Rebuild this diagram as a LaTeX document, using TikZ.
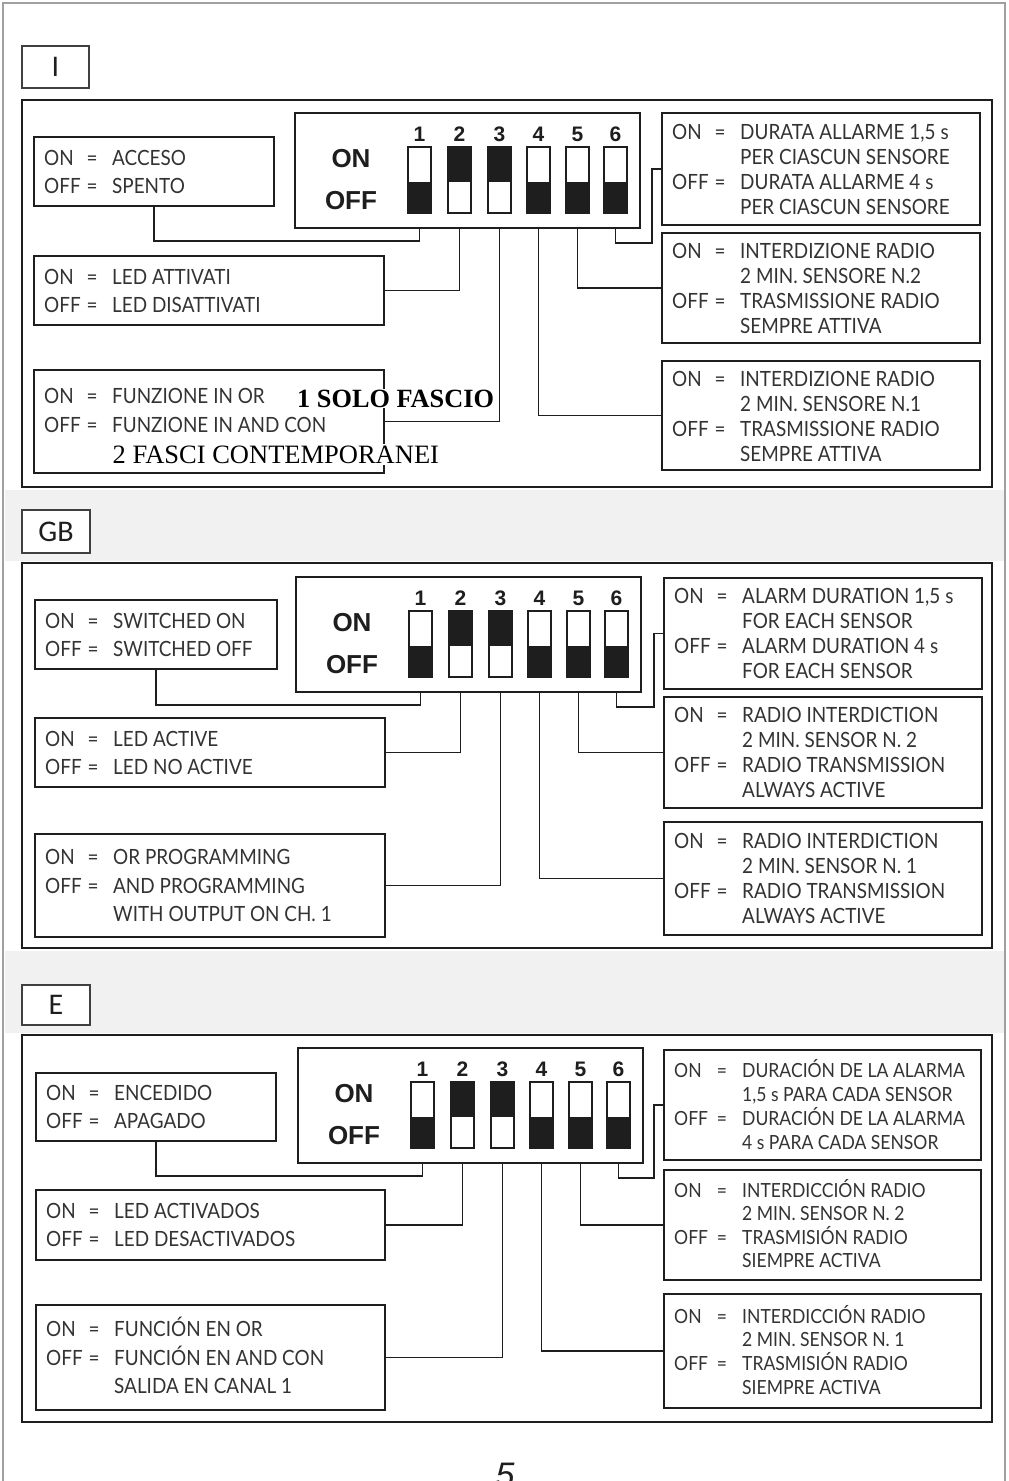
\documentclass[tikz,border=0pt]{standalone}
\usepackage{fontspec}
\setmainfont{Lato}[FakeStretch=0.9]
\newfontfamily\swfont{Liberation Sans}
\newfontfamily\ovlfont{Liberation Serif}
\newfontfamily\tagfont{Carlito}
\usetikzlibrary{calc}
\definecolor{ink}{HTML}{1E1E1E}
\definecolor{txt}{HTML}{333333}
\definecolor{band}{HTML}{F1F1F1}
\definecolor{pageline}{HTML}{A0A0A0}
\def\kvfs{21}
\tikzset{
 box/.style={draw=ink, line width=1.6pt, inner sep=0pt, outer sep=0pt, anchor=north west, fill=white},
 mainbox/.style={draw=ink, line width=2.6pt, inner sep=0pt, outer sep=0pt, anchor=north west, fill=white},
 tagbox/.style={draw=ink!85, line width=1.3pt, fill=white, inner sep=0pt, outer sep=0pt, anchor=north west, font=\tagfont\fontsize{30}{30}\selectfont, text=ink},
 swbox/.style={draw=ink, line width=1.6pt, inner sep=0pt, outer sep=0pt, anchor=north west, minimum width=23pt, minimum height=66pt},
 conn/.style={draw=ink, line width=1.6pt},
 kv/.style={inner sep=0pt, anchor=west, text height=15pt, text depth=0pt, text=txt, font=\fontsize{\kvfs}{\kvfs}\selectfont},
 eqs/.style={kv, anchor=center},
 num/.style={font=\swfont\bfseries\fontsize{21}{21}\selectfont, inner sep=0pt, text=ink},
 onoff/.style={font=\swfont\bfseries\fontsize{26}{26}\selectfont, inner sep=0pt, text=ink},
}
\newcommand\tbox[5]{\node[box, minimum width={(#4)-(#2)}, minimum height={(#5)-(#3)}] (#1) at (#2,#3) {};}
\newcommand\kvl[5]{%
 \node[kv] (#1k#2) at ($(#1.west)+(10,#3)$) {#4};
 \node[eqs] (#1e#2) at ($(#1.west)+(58,#3)$) {=};
 \node[kv] (#1v#2) at ($(#1.west)+(78,#3)$) {#5};}
\newcommand\cnt[4]{%
 \node[kv] (#1v#2) at ($(#1.west)+(78,#3)$) {#4};}
\newcommand\panel[3]{%
 \begin{scope}[shift={(#2,#3)}]
 \node[box, minimum width=345pt, minimum height=115pt] (#1sb) at (0,0) {};
 \node[onoff] (#1on) at (56,46) {ON};
 \node[onoff] (#1off) at (56,88) {OFF};
 \foreach \i/\xx in {1/113,2/153,3/193,4/232,5/271,6/309} {
   \node[swbox] (#1s\i) at (\xx,34) {};
   \node[num] (#1n\i) at ({\xx+11.5},21) {\i};
 }
 \end{scope}
 \foreach \i in {1,4,5,6} {\fill[ink] ($(#1s\i.north west)+(0,35)$) rectangle (#1s\i.south east);}
 \foreach \i in {2,3} {\fill[ink] (#1s\i.north west) rectangle ($(#1s\i.north east)+(0,35)$);}
}
\newcommand\wires[1]{%
 \draw[conn] (#1s1 |- #1sb.south) -- ++(0,13) -| (#1L1.south);
 \draw[conn] (#1s2 |- #1sb.south) |- (#1L2.east);
 \draw[conn] (#1s3 |- #1sb.south) |- (#1L3.east);
 \draw[conn] (#1s4 |- #1sb.south) |- (#1R3.west);
 \draw[conn] (#1s5 |- #1sb.south) |- (#1R2.west);
 \draw[conn] (#1s6 |- #1sb.south) -- ++(0,15) -| ($(#1R1.west)+(-10,0)$) -- (#1R1.west);
}
\begin{document}
\begin{tikzpicture}[x=1pt,y=-1pt]
\useasboundingbox (0,0) rectangle (1009,1481);
\fill[white] (0,0) rectangle (1009,1481);
% scan bands
\fill[band] (5,490) rectangle (1004,561);
\fill[band] (5,951) rectangle (1004,1033);
\draw[pageline, line width=1.2pt] (3,1500) -- (3,3) -- (1005,3) -- (1005,1500);

% ---------- I ----------
\node[tagbox, minimum width=67pt, minimum height=42pt] (tagI) at (22,46) {I};
\node[mainbox, minimum width=970pt, minimum height=387pt] (mainI) at (22,100) {};
\panel{I}{295}{113}
\tbox{IL1}{34}{137}{274}{206}
\tbox{IL2}{34}{256}{384}{325}
\tbox{IL3}{34}{370}{384}{473}
\tbox{IR1}{662}{113}{980}{225}
\tbox{IR2}{662}{233}{980}{343}
\tbox{IR3}{662}{361}{980}{470}
\wires{I}
\kvl{IL1}{1}{-14}{ON}{ACCESO}
\kvl{IL1}{2}{14}{OFF}{SPENTO}
\kvl{IL2}{1}{-14}{ON}{LED ATTIVATI}
\kvl{IL2}{2}{14}{OFF}{LED DISATTIVATI}
\kvl{IL3}{1}{-26}{ON}{FUNZIONE IN OR}
\kvl{IL3}{2}{3}{OFF}{FUNZIONE IN AND CON}
\kvl{IR1}{1}{-37}{ON}{DURATA ALLARME 1,5 s}
\cnt{IR1}{2}{-12}{PER CIASCUN SENSORE}
\kvl{IR1}{3}{13}{OFF}{DURATA ALLARME 4 s}
\cnt{IR1}{4}{38}{PER CIASCUN SENSORE}
\kvl{IR2}{1}{-37}{ON}{INTERDIZIONE RADIO}
\cnt{IR2}{2}{-12}{2 MIN. SENSORE N.2}
\kvl{IR2}{3}{13}{OFF}{TRASMISSIONE RADIO}
\cnt{IR2}{4}{38}{SEMPRE ATTIVA}
\kvl{IR3}{1}{-37}{ON}{INTERDIZIONE RADIO}
\cnt{IR3}{2}{-12}{2 MIN. SENSORE N.1}
\kvl{IR3}{3}{13}{OFF}{TRASMISSIONE RADIO}
\cnt{IR3}{4}{38}{SEMPRE ATTIVA}
\node[font=\ovlfont\bfseries\fontsize{26.3}{26.3}\selectfont, fill=white, inner sep=1pt, anchor=base west, text=black] (ovlA) at (296,407) {1 SOLO FASCIO};
\node[font=\ovlfont\fontsize{26.5}{26.5}\selectfont, fill=white, inner sep=1.5pt, anchor=base west, text=black] (ovlB) at (111,463) {2 FASCI CONTEMPORANEI};

% ---------- GB ----------
\node[tagbox, minimum width=68pt, minimum height=43pt] (tagG) at (22,510) {GB};
\node[mainbox, minimum width=970pt, minimum height=385pt] (mainG) at (22,563) {};
\panel{G}{296}{577}
\tbox{GL1}{35}{600}{277}{669}
\tbox{GL2}{35}{718}{385}{787}
\tbox{GL3}{35}{834}{385}{937}
\tbox{GR1}{664}{578}{982}{689}
\tbox{GR2}{664}{697}{982}{808}
\tbox{GR3}{664}{822}{982}{935}
\wires{G}
\kvl{GL1}{1}{-14}{ON}{SWITCHED ON}
\kvl{GL1}{2}{14}{OFF}{SWITCHED OFF}
\kvl{GL2}{1}{-14}{ON}{LED ACTIVE}
\kvl{GL2}{2}{14}{OFF}{LED NO ACTIVE}
\kvl{GL3}{1}{-28.5}{ON}{OR PROGRAMMING}
\kvl{GL3}{2}{0}{OFF}{AND PROGRAMMING}
\cnt{GL3}{3}{28.5}{WITH OUTPUT ON CH. 1}
\kvl{GR1}{1}{-37.5}{ON}{ALARM DURATION 1,5 s}
\cnt{GR1}{2}{-12.5}{FOR EACH SENSOR}
\kvl{GR1}{3}{12.5}{OFF}{ALARM DURATION 4 s}
\cnt{GR1}{4}{37.5}{FOR EACH SENSOR}
\kvl{GR2}{1}{-37.5}{ON}{RADIO INTERDICTION}
\cnt{GR2}{2}{-12.5}{2 MIN. SENSOR N. 2}
\kvl{GR2}{3}{12.5}{OFF}{RADIO TRANSMISSION}
\cnt{GR2}{4}{37.5}{ALWAYS ACTIVE}
\kvl{GR3}{1}{-37.5}{ON}{RADIO INTERDICTION}
\cnt{GR3}{2}{-12.5}{2 MIN. SENSOR N. 1}
\kvl{GR3}{3}{12.5}{OFF}{RADIO TRANSMISSION}
\cnt{GR3}{4}{37.5}{ALWAYS ACTIVE}

% ---------- E ----------
\node[tagbox, minimum width=68pt, minimum height=40pt] (tagE) at (22,985) {E};
\node[mainbox, minimum width=970pt, minimum height=387pt] (mainE) at (22,1035) {};
\panel{E}{298}{1048}
\tbox{EL1}{36}{1073}{276}{1141}
\tbox{EL2}{36}{1190}{385}{1260}
\tbox{EL3}{36}{1305}{385}{1410}
\tbox{ER1}{664}{1050}{981}{1160}
\tbox{ER2}{664}{1170}{981}{1280}
\tbox{ER3}{664}{1294}{981}{1408}
\wires{E}
\kvl{EL1}{1}{-14}{ON}{ENCEDIDO}
\kvl{EL1}{2}{14}{OFF}{APAGADO}
\kvl{EL2}{1}{-14}{ON}{LED ACTIVADOS}
\kvl{EL2}{2}{14}{OFF}{LED DESACTIVADOS}
\kvl{EL3}{1}{-29}{ON}{FUNCIÓN EN OR}
\kvl{EL3}{2}{0}{OFF}{FUNCIÓN EN AND CON}
\cnt{EL3}{3}{28}{SALIDA EN CANAL 1}
\def\kvfs{19.5}
\kvl{ER1}{1}{-35}{ON}{DURACIÓN DE LA ALARMA}
\cnt{ER1}{2}{-11}{1,5 s PARA CADA SENSOR}
\kvl{ER1}{3}{13}{OFF}{DURACIÓN DE LA ALARMA}
\cnt{ER1}{4}{37}{4 s PARA CADA SENSOR}
\kvl{ER2}{1}{-35}{ON}{INTERDICCIÓN RADIO}
\cnt{ER2}{2}{-12}{2 MIN. SENSOR N. 2}
\kvl{ER2}{3}{12}{OFF}{TRASMISIÓN RADIO}
\cnt{ER2}{4}{35}{SIEMPRE ACTIVA}
\kvl{ER3}{1}{-35}{ON}{INTERDICCIÓN RADIO}
\cnt{ER3}{2}{-12}{2 MIN. SENSOR N. 1}
\kvl{ER3}{3}{12}{OFF}{TRASMISIÓN RADIO}
\cnt{ER3}{4}{36}{SIEMPRE ACTIVA}

% page number
\node[font=\swfont\itshape\fontsize{34}{34}\selectfont, anchor=north, inner sep=0pt, text=ink] (pg) at (505,1463) {5};
\end{tikzpicture}
\end{document}
